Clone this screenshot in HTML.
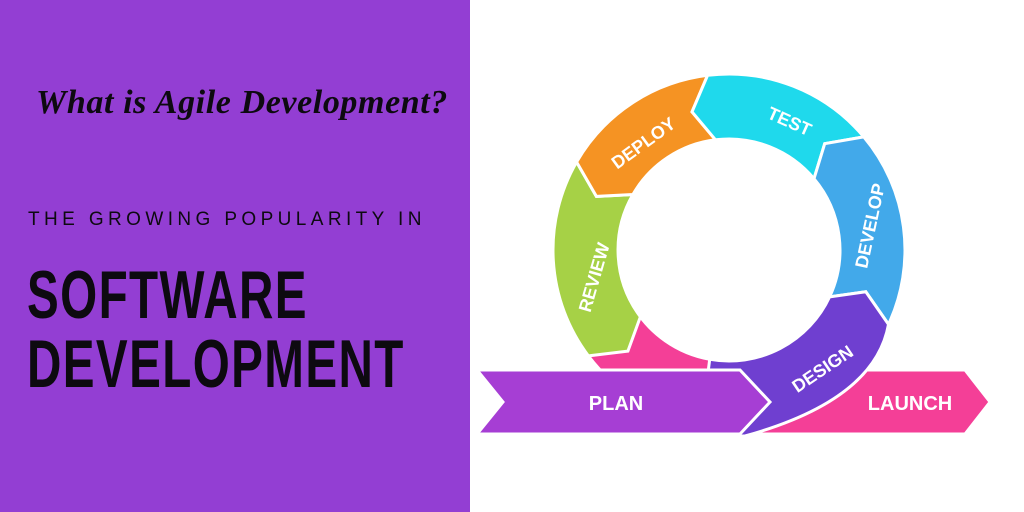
<!DOCTYPE html>
<html><head><meta charset="utf-8"><style>
html,body{margin:0;padding:0;width:1024px;height:512px;overflow:hidden;background:#fff}
#left{position:absolute;left:0;top:0;width:470px;height:512px;background:#933ed3}
.t{position:absolute;color:#0d0a10;white-space:nowrap}
#q{left:36px;top:84px;font:italic 700 34px "Liberation Serif",serif;letter-spacing:0.6px}
#g{left:28px;top:209px;font:500 19px "Liberation Sans",sans-serif;letter-spacing:4.4px}
.big{font:700 68px/1 "Liberation Sans",sans-serif;transform:scaleX(0.70);transform-origin:0 0;letter-spacing:2px}
#s{left:27px;top:261px}
#d{left:27px;top:330px}
svg{position:absolute;left:0;top:0}
</style></head><body>
<div id="left"></div>
<div class="t" id="q">What is Agile Development?</div>
<div class="t" id="g">THE GROWING POPULARITY IN</div>
<div class="t big" id="s">SOFTWARE</div>
<div class="t big" id="d">DEVELOPMENT</div>
<svg width="1024" height="512" viewBox="0 0 1024 512">
<g id="ring" stroke="#fff" stroke-width="3" stroke-linejoin="miter"></g>
<g font-family="Liberation Sans,sans-serif" font-weight="700" font-size="18" fill="#fff" text-anchor="middle">
<text transform="translate(787,127) rotate(24)">TEST</text>
<text transform="translate(647,148) rotate(-36)">DEPLOY</text>
<text transform="translate(876,227) rotate(-78)">DEVELOP</text>
<text transform="translate(600,279) rotate(-74)">REVIEW</text>
<text transform="translate(826,374) rotate(-34)">DESIGN</text>
<text x="616" y="410" font-size="20">PLAN</text>
<text x="910" y="410" font-size="20">LAUNCH</text>
</g>
</svg>
<script>
var cx=729,cy=250,R=176,r=111,m=143,d=8;
function P(a,rad){a=a*Math.PI/180;return (cx+rad*Math.cos(a)).toFixed(1)+','+(cy+rad*Math.sin(a)).toFixed(1);}
function seg(a0,a1,c){
 var big=(a0-a1)>180?1:0;
 return '<path fill="'+c+'" d="M'+P(a0,R)+' A'+R+' '+R+' 0 '+big+' 0 '+P(a1,R)+' L'+P(a1-d,m)+' L'+P(a1,r)+' A'+r+' '+r+' 0 '+big+' 1 '+P(a0,r)+' L'+P(a0-d,m)+' Z"/>';
}
var h='';
h+='<path fill="#f43f97" d="M742,370 L965,370 L990,402 L965,434 L742,434 Z"/>';
h+=seg(150,100,'#f43f97');
h+=seg(210,143,'#a6d146');
h+=seg(263,210,'#f59323');
h+=seg(320,263,'#1fd9ec');
h+=seg(385,320,'#42a9ea');
h+='<path fill="#6f3fd0" d="M'+P(100,r)+' A'+r+' '+r+' 0 0 0 '+P(25,r)+' L'+P(17,m)+' L'+P(25,R)+' Q875,400 745,436 L700,436 Z"/>';
h+='<path fill="#a63ed4" d="M477,370 L740,370 L770,402 L740,434 L477,434 L503,402 Z"/>';
document.getElementById('ring').innerHTML=h;
</script>
</body></html>
